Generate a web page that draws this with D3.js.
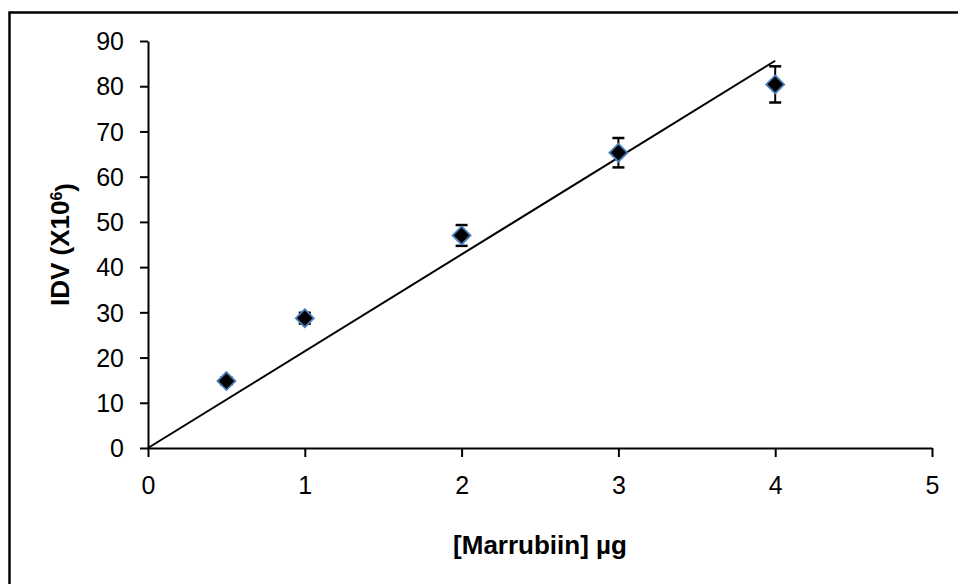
<!DOCTYPE html>
<html lang="en">
<head>
    <meta charset="utf-8">
    <title>IDV vs Marrubiin</title>
    <script src="https://d3js.org/d3.v7.min.js"></script>
    <style>
        body { margin: 0; background: #fff; }
        text { font-family: "Liberation Sans", Arial, sans-serif; fill: #000; }
    </style>
</head>
<body>
    <div id="chart-container"></div>

    <script>
        // data
        const amounts = [0.5, 1, 2, 3, 4];           // [Marrubiin] µg
        const idv = [14.8, 28.7, 47.0, 65.3, 80.4];   // IDV (x10^6)
        const idvErr = [0.8, 1.2, 2.3, 3.25, 4.0];    // error bars (+/-)
        const xTicks = [0, 1, 2, 3, 4, 5];
        const yTicks = [0, 10, 20, 30, 40, 50, 60, 70, 80, 90];
        const trendRange = [0, 4];

        const width = 958;
        const height = 584;

        const plotLeft = 148, plotRight = 932, plotTop = 41, plotBottom = 448;

        const svg = d3.select('#chart-container')
            .append('svg')
            .attr('width', width)
            .attr('height', height);

        // outer chart border (right/bottom run off the picture)
        svg.append('rect')
            .attr('x', 9.5)
            .attr('y', 12.5)
            .attr('width', 980)
            .attr('height', 620)
            .attr('fill', 'none')
            .attr('stroke', '#000')
            .attr('stroke-width', 2.5);

        const xScale = d3.scaleLinear().domain([0, 5]).range([plotLeft, plotRight]);
        const yScale = d3.scaleLinear().domain([0, 90]).range([plotBottom, plotTop]);

        const xAxis = d3.axisBottom(xScale)
            .tickValues(xTicks)
            .tickFormat(d3.format('d'))
            .tickSize(9)
            .tickSizeOuter(0)
            .tickPadding(19);

        const yAxis = d3.axisLeft(yScale)
            .tickValues(yTicks)
            .tickFormat(d3.format('d'))
            .tickSize(8)
            .tickSizeOuter(0)
            .tickPadding(16);

        const gx = svg.append('g')
            .attr('transform', `translate(0,${plotBottom})`)
            .call(xAxis);
        const gy = svg.append('g')
            .attr('transform', `translate(${plotLeft},0)`)
            .call(yAxis);

        [gx, gy].forEach(g => {
            g.select('.domain').attr('stroke', '#000').attr('stroke-width', 2);
            g.selectAll('.tick line').attr('stroke', '#000').attr('stroke-width', 2);
            g.selectAll('.tick text')
                .style('font-family', '"Liberation Sans", Arial, sans-serif')
                .style('font-size', '25px')
                .attr('fill', '#000');
        });
        gy.selectAll('.tick text').attr('dy', '0.35em');

        // trendline through the origin (least squares, as in the source)
        const slope = d3.sum(amounts, (d, i) => d * idv[i]) / d3.sum(amounts, d => d * d);
        svg.append('line')
            .attr('x1', xScale(trendRange[0]))
            .attr('y1', yScale(slope * trendRange[0]))
            .attr('x2', xScale(trendRange[1]))
            .attr('y2', yScale(slope * trendRange[1]))
            .attr('stroke', '#000')
            .attr('stroke-width', 2);

        const points = amounts.map((x, i) => ({ x, y: idv[i], e: idvErr[i] }));

        // error bars
        const bars = svg.append('g');
        bars.selectAll('line.stem')
            .data(points)
            .enter()
            .append('line')
            .attr('class', 'stem')
            .attr('x1', d => xScale(d.x))
            .attr('x2', d => xScale(d.x))
            .attr('y1', d => yScale(d.y - d.e))
            .attr('y2', d => yScale(d.y + d.e))
            .attr('stroke', '#000')
            .attr('stroke-width', 2);
        ['lo', 'hi'].forEach(k => {
            bars.selectAll('line.cap-' + k)
                .data(points)
                .enter()
                .append('line')
                .attr('class', 'cap-' + k)
                .attr('x1', d => xScale(d.x) - 6)
                .attr('x2', d => xScale(d.x) + 6)
                .attr('y1', d => yScale(k === 'lo' ? d.y - d.e : d.y + d.e))
                .attr('y2', d => yScale(k === 'lo' ? d.y - d.e : d.y + d.e))
                .attr('stroke', '#000')
                .attr('stroke-width', 2.5);
        });

        // diamond markers
        svg.selectAll('path.marker')
            .data(points)
            .enter()
            .append('path')
            .attr('class', 'marker')
            .attr('transform', d => `translate(${xScale(d.x)},${yScale(d.y)})`)
            .attr('d', 'M0,-9L9,0L0,9L-9,0Z')
            .attr('fill', '#000')
            .attr('stroke', '#4a7ebb')
            .attr('stroke-width', 1.8);

        // axis titles
        svg.append('text')
            .attr('x', 540)
            .attr('y', 545)
            .attr('dy', '0.35em')
            .attr('text-anchor', 'middle')
            .style('font-size', '26px')
            .style('font-weight', 'bold')
            .text('[Marrubiin] µg');

        const yTitle = svg.append('text')
            .attr('transform', `translate(60,${(plotTop + plotBottom) / 2}) rotate(-90)`)
            .attr('dy', '0.35em')
            .attr('text-anchor', 'middle')
            .style('font-size', '26px')
            .style('font-weight', 'bold');
        yTitle.append('tspan').text('IDV (X10');
        yTitle.append('tspan').attr('dy', '-0.45em').style('font-size', '16px').text('6');
        yTitle.append('tspan').attr('dy', '0.45em').text(')');
    </script>
</body>
</html>
